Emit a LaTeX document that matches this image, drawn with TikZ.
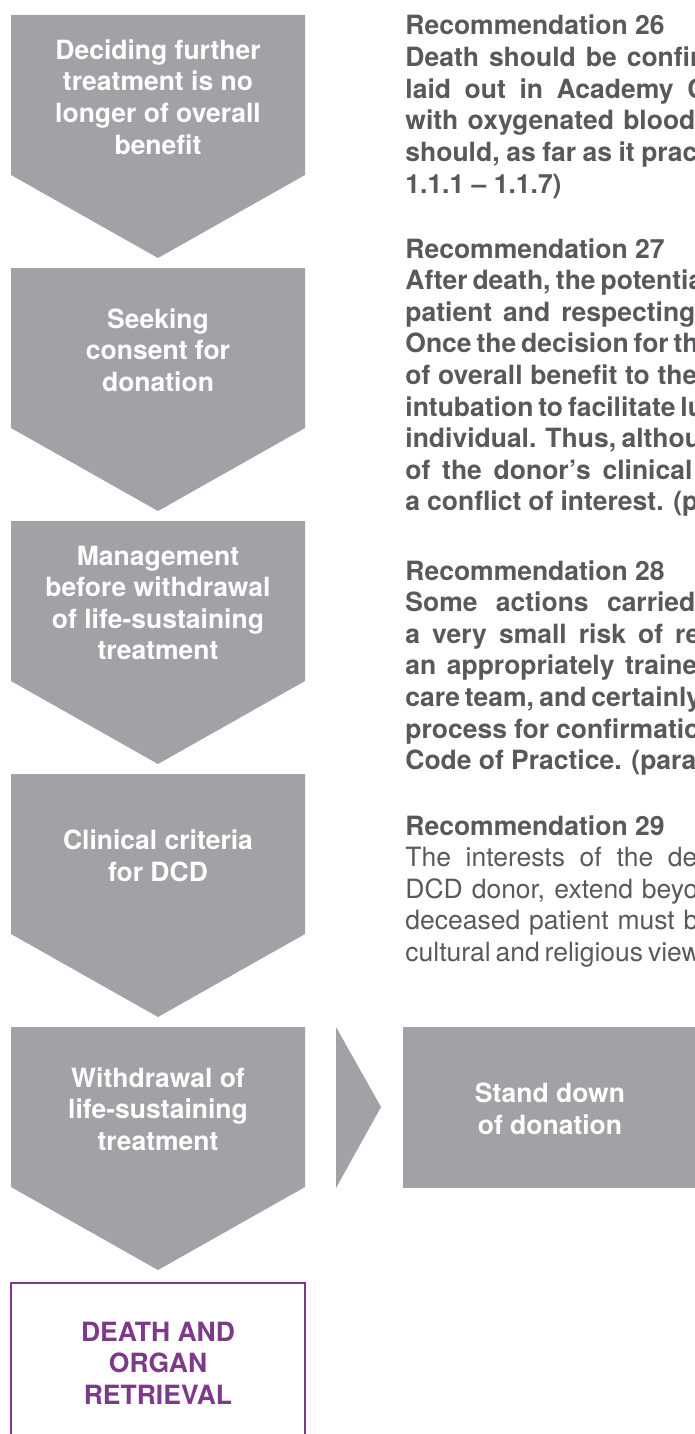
\documentclass[tikz,border=0pt]{standalone}
\usepackage{fontspec}
\setmainfont{TeX Gyre Heros}
\definecolor{chevgray}{RGB}{161,161,166}
\definecolor{txtgray}{RGB}{88,89,91}
\definecolor{purp}{RGB}{125,58,137}
\newlength\pxu
\setlength\pxu{0.5pt}
\newcommand{\chevshape}[1]{\fill[chevgray] (11,#1) -- (305,#1) -- (305,#1+160) -- (158,#1+243) -- (11,#1+160) -- cycle;}
\newcommand{\recline}[5]{\node[#1] (#2) at (405,#3) {\makebox[#4\pxu][s]{#5}};}
\begin{document}
\begin{tikzpicture}[x=0.5pt,y=-0.5pt,
  chevtext/.style={text=white, font=\bfseries\fontsize{13.25pt}{15.8pt}\selectfont, align=center, inner sep=0pt},
  rtxt/.style={text=txtgray, font=\bfseries\fontsize{13.25pt}{15.8pt}\selectfont, inner sep=0pt, anchor=base west},
  rtxtreg/.style={text=txtgray, font=\fontsize{13.25pt}{15.8pt}\selectfont, inner sep=0pt, anchor=base west},
  deathtext/.style={text=purp, font=\bfseries\fontsize{13.25pt}{15.8pt}\selectfont, align=center, inner sep=0pt}]
\useasboundingbox (0,0) rectangle (695,1434);
\clip (0,0) rectangle (695,1434);
% chevrons
\chevshape{15}
\chevshape{268}
\chevshape{521}
\chevshape{774}
\chevshape{1027}
\node[chevtext] (c1) at (158,97) {Deciding further\\treatment is no\\longer of overall\\benefit};
\node[chevtext] (c2) at (158,350) {Seeking\\consent for\\donation};
\node[chevtext] (c3) at (158,603) {Management\\before withdrawal\\of life-sustaining\\treatment};
\node[chevtext] (c4) at (158,856) {Clinical criteria\\for DCD};
\node[chevtext] (c5) at (158,1109) {Withdrawal of\\life-sustaining\\treatment};
% side arrow and stand down box
\fill[chevgray] (336,1027) -- (381,1107) -- (336,1188) -- cycle;
\fill[chevgray] (403,1027) rectangle (697,1188);
\node[chevtext] (sd) at (550,1109) {Stand down\\of donation};
% death box
\draw[purp, line width=1.25pt] (11,1450) -- (11,1283) -- (305,1283) -- (305,1450);
\node[deathtext] (death) at (158,1363) {DEATH AND\\ORGAN\\RETRIEVAL};
% Recommendation 26
\node[rtxt] (r26) at (405,35) {Recommendation 26};
\recline{rtxt}{r26a}{66.6}{295}{Death should be confir}
\recline{rtxt}{r26b}{98.2}{301}{laid out in Academy C}
\recline{rtxt}{r26c}{129.8}{290}{with oxygenated blood}
\recline{rtxt}{r26d}{161.4}{292}{should, as far as it prac}
\node[rtxt] (r26e) at (405,193) {1.1.1 – 1.1.7)};
% Recommendation 27
\node[rtxt] (r27) at (405,258) {Recommendation 27};
\recline{rtxt}{r27a}{289.6}{297}{After death, the potentia}
\recline{rtxt}{r27b}{321.2}{290}{patient and respecting}
\recline{rtxt}{r27c}{352.8}{293}{Once the decision for th}
\recline{rtxt}{r27d}{384.4}{292}{of overall benefit to the}
\recline{rtxt}{r27e}{416}{295}{intubation to facilitate lu}
\recline{rtxt}{r27f}{447.6}{292}{individual. Thus, althou}
\recline{rtxt}{r27g}{479.2}{287}{of the donor’s clinical}
\recline{rtxt}{r27h}{510.8}{293}{a conflict of interest. (p}
% Recommendation 28
\node[rtxt] (r28) at (405,580) {Recommendation 28};
\recline{rtxt}{r28a}{611.6}{290}{Some actions carried}
\recline{rtxt}{r28b}{643.2}{295}{a very small risk of re}
\recline{rtxt}{r28c}{674.8}{292}{an appropriately traine}
\recline{rtxt}{r28d}{706.4}{295}{care team, and certainly}
\recline{rtxt}{r28e}{738}{295}{process for confirmatio}
\recline{rtxt}{r28f}{769.6}{291}{Code of Practice. (para}
% Recommendation 29
\node[rtxt] (r29) at (405,835) {Recommendation 29};
\recline{rtxtreg}{r29a}{866.6}{292}{The interests of the de}
\recline{rtxtreg}{r29b}{898.2}{293}{DCD donor, extend beyo}
\recline{rtxtreg}{r29c}{929.8}{293}{deceased patient must b}
\recline{rtxtreg}{r29d}{961.4}{290}{cultural and religious view}
\end{tikzpicture}
\end{document}
